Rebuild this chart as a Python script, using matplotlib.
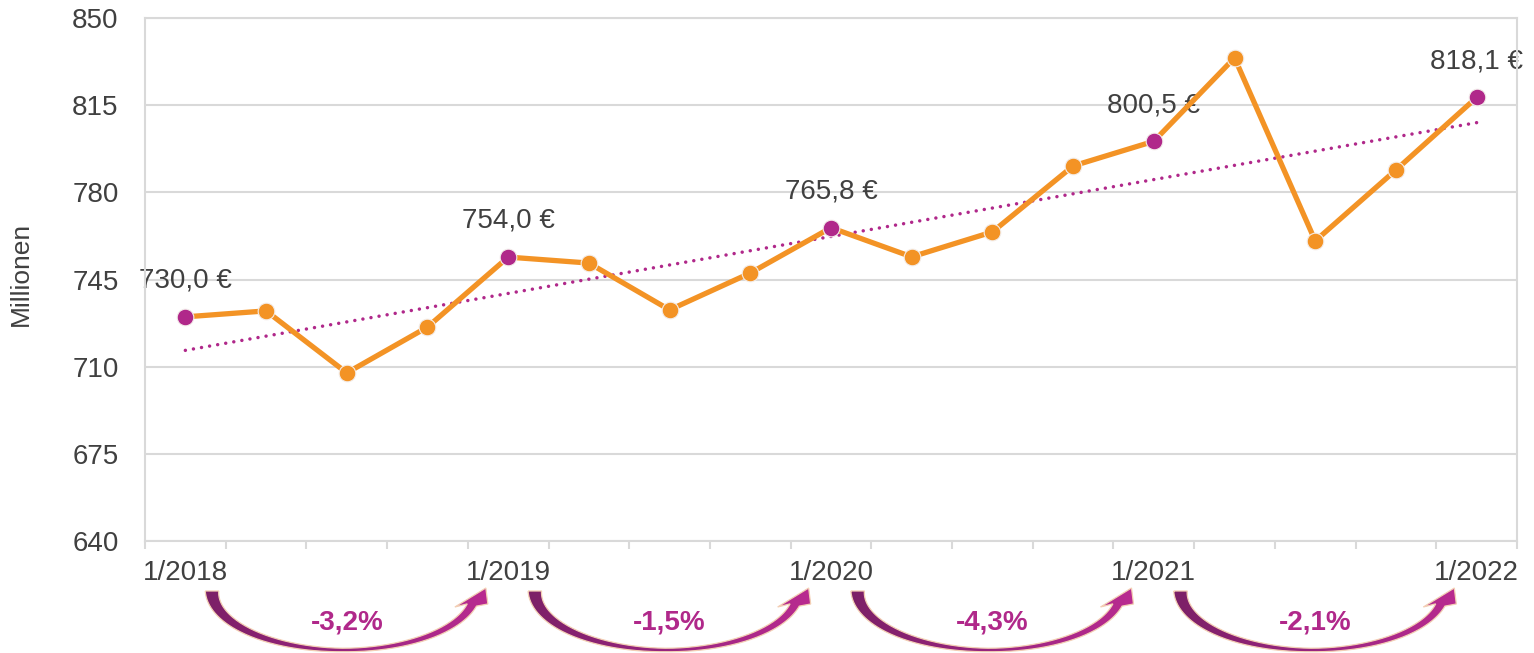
import numpy as np
import matplotlib
matplotlib.use("Agg")
import matplotlib.pyplot as plt
from matplotlib.path import Path
from matplotlib.patches import PathPatch
from matplotlib.colors import LinearSegmentedColormap

plt.rcParams['font.family'] = ['Liberation Sans', 'DejaVu Sans']

# ---------------- data ----------------
quarters = list(range(17))  # quarterly, 1/2018 .. 1/2022
values = [730.0, 732.4, 707.5, 725.9, 754.0, 751.6, 732.8, 747.6, 765.8,
          754.1, 764.1, 790.6, 800.5, 834.0, 760.5, 789.0, 818.1]
highlight_idx = [0, 4, 8, 12, 16]
tick_pos = [0, 4, 8, 12, 16]
tick_labels = ["1/2018", "1/2019", "1/2020", "1/2021", "1/2022"]
change_labels = ["-3,2%", "-1,5%", "-4,3%", "-2,1%"]
yticks = [640, 675, 710, 745, 780, 815, 850]

ORANGE = "#F39325"
MAGENTA = "#B0288A"
TXT = "#404040"
GRID = "#D9D9D9"

W, H = 1534, 653
fig = plt.figure(figsize=(W / 100, H / 100), dpi=100)
ax = fig.add_axes([145 / W, 112 / H, 1372 / W, 523 / H])

x = np.array(quarters, dtype=float)
y = np.array(values)

# main line
ax.plot(x, y, color=ORANGE, lw=3.8, zorder=3, solid_capstyle='round')
hl = set(highlight_idx)
for i in range(len(x)):
    ax.plot(x[i], y[i], 'o', ms=12, mfc=MAGENTA if i in hl else ORANGE,
            mec="#F3EDEA", mew=0.8, zorder=4)

# linear trendline
k, d = np.polyfit(x, y, 1)
xt = np.array([x[0], x[-1]])
ax.plot(xt, k * xt + d, color=MAGENTA, lw=2.5, ls=(0, (0.01, 2.35)),
        dash_capstyle='round', zorder=2.5)

# data labels for highlighted points
for i in highlight_idx:
    ax.annotate(f"{values[i]:.1f}".replace('.', ',') + " €", (x[i], y[i]),
                xytext=(0, 26), textcoords='offset points', ha='center',
                va='center', fontsize=20, color=TXT, zorder=2)

# axes styling
ax.set_ylim(640, 850)
ax.set_yticks(yticks)
ax.set_xlim(-0.5, 16.5)
ax.set_xticks(tick_pos)
ax.set_xticklabels(tick_labels)
ax.set_xticks(np.arange(-0.5, 17, 1), minor=True)
ax.tick_params(axis='y', length=0, pad=19, labelsize=20, labelcolor=TXT)
ax.tick_params(axis='x', which='major', length=0, pad=14, labelsize=20, labelcolor=TXT)
ax.tick_params(axis='x', which='minor', length=6, width=1.5, color=GRID)
ax.grid(axis='y', color=GRID, lw=1.5)
ax.set_axisbelow(True)
for s in ax.spines.values():
    s.set_color(GRID)
    s.set_linewidth(1.5)
ax.set_ylabel("Millionen", fontsize=19, color=TXT)
ax.yaxis.set_label_coords(-0.0815, 0.51)

# ---------------- curved arrows overlay ----------------
ov = fig.add_axes([0, 0, 1, 1])
ov.set_xlim(0, W)
ov.set_ylim(H, 0)
ov.axis('off')

cmap = LinearSegmentedColormap.from_list("arr", ["#7C2067", "#9A2580", "#B92B90"])


def to_px(xd):
    disp = ax.transData.transform((xd, 700))
    return fig.transFigure.inverted().transform(disp)[0] * W


def curved_arrow(xs_c, ex, cy=591.0, b=59.0, ey=605.0):
    th_e = np.arcsin((ey - cy) / b)
    a = (ex - xs_c) / (1 + np.cos(th_e))
    cx = xs_c + a
    th = np.linspace(np.pi, th_e, 200)
    u = (np.pi - th) / (np.pi - th_e)
    ub = (np.pi / 2) / (np.pi - th_e)
    w = np.where(u < ub, 3.5 + 10 * ((ub - u) / ub) ** 1.3,
                 3.5 + 6 * ((u - ub) / (1 - ub)) ** 1.3)
    outer = np.column_stack([cx + (a + w / 2) * np.cos(th), cy + (b + w / 2) * np.sin(th)])
    inner = np.column_stack([cx + (a - w / 2) * np.cos(th), cy + (b - w / 2) * np.sin(th)])
    E = np.array([cx + a * np.cos(th_e), cy + b * np.sin(th_e)])
    R = E + [16, -1]
    T = E + [14, -17]
    L = E + [-17, 2]
    poly = np.vstack([outer, R, T, L, inner[::-1], outer[:1]])
    patch = PathPatch(Path(poly), facecolor='none', edgecolor='#F3CFB4', lw=0.9, zorder=5)
    ov.add_patch(patch)
    xmin, xmax = poly[:, 0].min(), poly[:, 0].max()
    ymin, ymax = poly[:, 1].min(), poly[:, 1].max()
    grad = np.linspace(0, 1, 256).reshape(1, -1)
    im = ov.imshow(grad, extent=[xmin, xmax, ymax, ymin], cmap=cmap,
                   aspect='auto', zorder=4, interpolation='bilinear')
    im.set_clip_path(patch)


for j, lab in enumerate(change_labels):
    s = tick_pos[j]
    e = tick_pos[j + 1]
    curved_arrow(to_px(s + 0.33), to_px(e - 0.45))
    ov.text(to_px((s + e) / 2), 623, lab, ha='center', va='center',
            fontsize=20, fontweight='bold', color=MAGENTA, zorder=6)

ov.set_xlim(0, W)
ov.set_ylim(H, 0)

fig.savefig("out.png", dpi=100)
